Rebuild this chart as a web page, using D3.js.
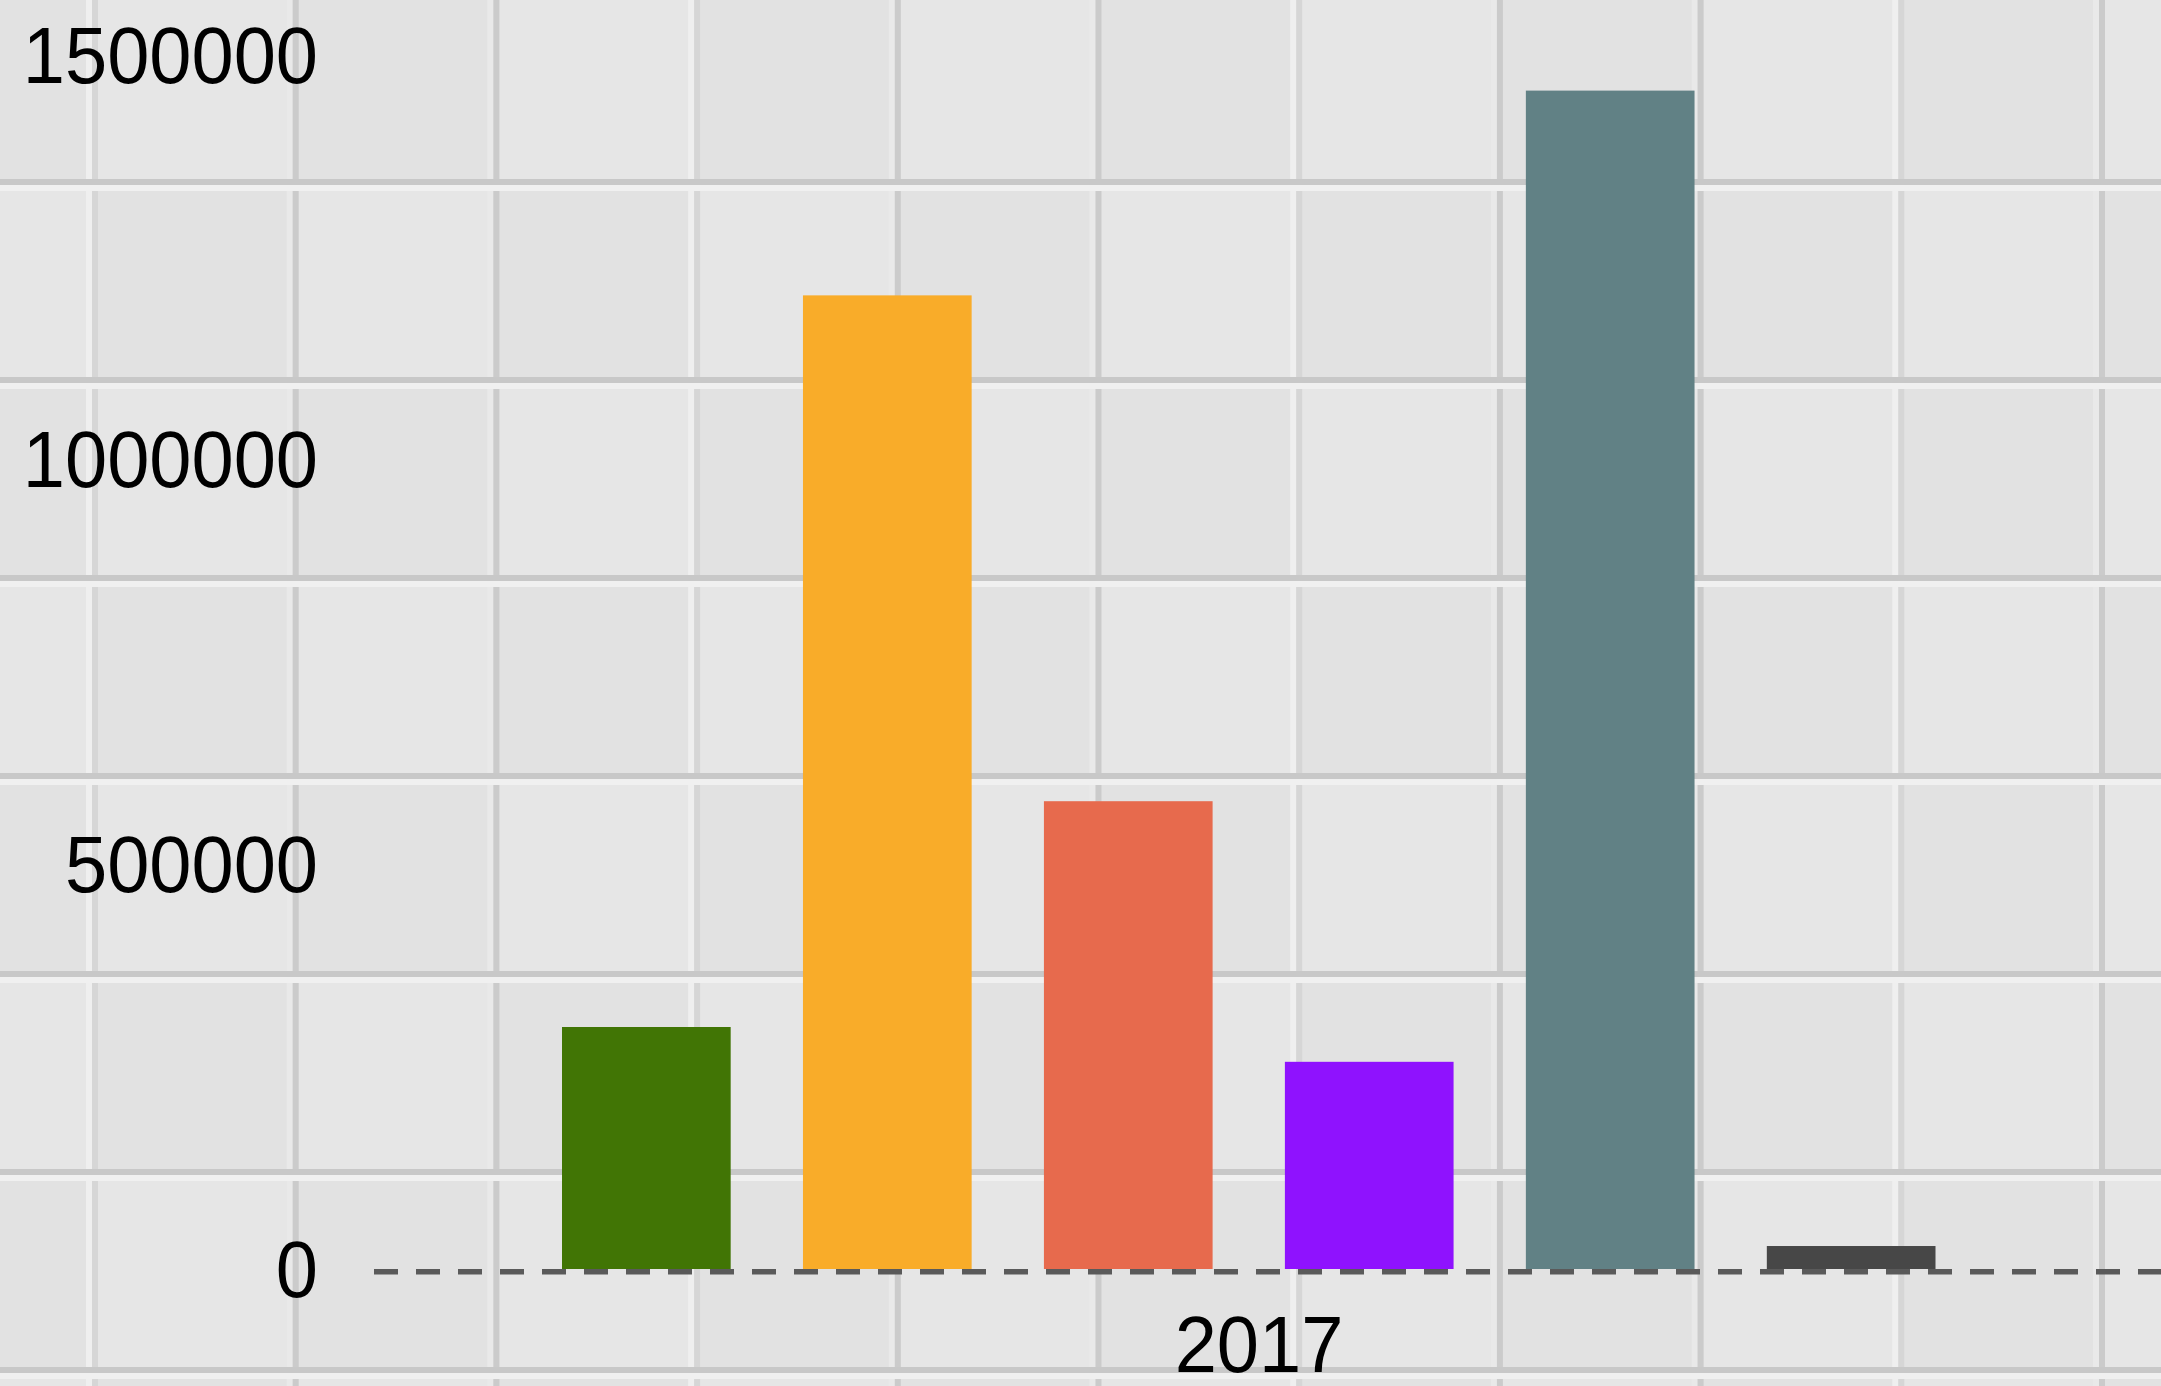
<!DOCTYPE html>
<html>
<head>
<meta charset="utf-8">
<script src="https://cdn.jsdelivr.net/npm/d3@7"></script>
<style>
  html, body { margin: 0; padding: 0; background: #e4e4e4; }
  svg { display: block; }
  text { font-family: "Liberation Sans", Arial, sans-serif; fill: #000; }
</style>
</head>
<body>
<svg id="chart" width="2161" height="1386"></svg>
<script>
// ---- data ----
const years = ["2017"];
const series = ["Series 1", "Series 2", "Series 3", "Series 4", "Series 5", "Series 6"];
const values2017 = [299000, 1203000, 578000, 256000, 1456000, 28400];
const seriesColors = ["#417505", "#F9AC29", "#E76A4D", "#8F12FE", "#618185", "#474747"];
const yTicks = [0, 500000, 1000000, 1500000];

const W = 2161, H = 1386;
const svg = d3.select("#chart");

// ---- tiled background ----
const bg = svg.append("g");
bg.append("rect").attr("width", W).attr("height", H).attr("fill", "#e3e3e3");
const colStep = 200.7, colOff = 92, rowStep = 198, rowOff = 185;
const colB = d3.range(-1, 12).map(k => colOff + k * colStep);
const rowB = d3.range(-1, 8).map(k => rowOff + k * rowStep);
colB.forEach((cx, i) => {
  rowB.forEach((ry, j) => {
    const shade = ((i + j) % 2 === 0) ? "#e2e2e2" : "#e6e6e6";
    bg.append("rect").attr("x", cx).attr("y", ry).attr("width", colStep).attr("height", rowStep).attr("fill", shade);
  });
});
colB.forEach((cx, i) => {
  const lightType = ((i - 1) % 3 + 3) % 3 === 0;
  bg.append("rect").attr("x", cx - 6).attr("y", 0).attr("width", 6).attr("height", H)
    .attr("fill", lightType ? "#efefef" : "#e9e9e9");
  bg.append("rect").attr("x", cx).attr("y", 0).attr("width", 6).attr("height", H)
    .attr("fill", lightType ? "#d6d6d6" : "#cbcbcb");
});
rowB.forEach(ry => {
  bg.append("rect").attr("x", 0).attr("y", ry - 6).attr("width", W).attr("height", 6).attr("fill", "#c8c8c8");
  bg.append("rect").attr("x", 0).attr("y", ry).attr("width", W).attr("height", 6).attr("fill", "#f0f0f0");
});

// ---- scales ----
const y = d3.scaleLinear().domain([0, 1500000]).range([1269, 55]);
const x0 = d3.scaleBand().domain(years).range([374, 2144]).padding(0);
const x1 = d3.scaleBand().domain(series).range([562, 1935.5]).paddingInner(0.3).paddingOuter(0);

// ---- bars ----
svg.append("g").selectAll("rect")
  .data(series.map((s, i) => ({ s, v: values2017[i], c: seriesColors[i] })))
  .join("rect")
  .attr("x", d => x1(d.s))
  .attr("width", x1.bandwidth())
  .attr("y", d => y(d.v))
  .attr("height", d => y(0) - y(d.v))
  .attr("fill", d => d.c);

// ---- zero dashed line ----
svg.append("line")
  .attr("x1", 374).attr("x2", W)
  .attr("y1", y(0) + 2.8).attr("y2", y(0) + 2.8)
  .attr("stroke", "#5a5a5a").attr("stroke-width", 5.5)
  .attr("stroke-dasharray", "24 18");

// ---- y axis ----
const yAxis = d3.axisLeft(y).tickValues(yTicks).tickFormat(d3.format("d")).tickSize(0).tickPadding(0);
const gy = svg.append("g").attr("transform", "translate(318,0)").call(yAxis);
gy.select(".domain").remove();
gy.selectAll("text")
  .attr("font-size", 79)
  .attr("font-family", "Liberation Sans, Arial, sans-serif")
  .attr("fill", "#000")
  .attr("dy", null)
  .attr("x", 0)
  .attr("y", 27.3)
  .attr("transform", "scale(0.96,1)")
  .attr("text-anchor", "end");

// ---- x axis ----
const xAxis = d3.axisBottom(x0).tickSize(0).tickPadding(0);
const gx = svg.append("g").attr("transform", "translate(0,1371.5)").call(xAxis);
gx.select(".domain").remove();
gx.selectAll("text")
  .attr("font-size", 79)
  .attr("font-family", "Liberation Sans, Arial, sans-serif")
  .attr("fill", "#000")
  .attr("dy", null)
  .attr("y", 0)
  .attr("transform", "scale(0.96,1)")
  .attr("text-anchor", "middle");
</script>
</body>
</html>
